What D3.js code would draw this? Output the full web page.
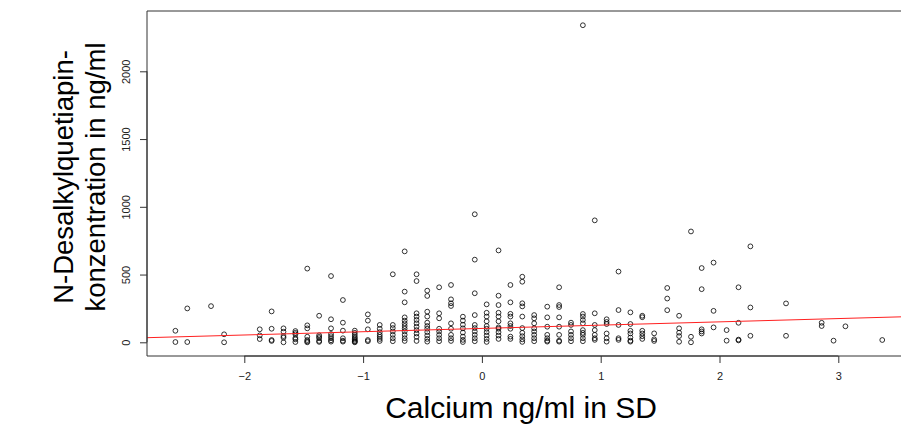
<!DOCTYPE html>
<html><head><meta charset="utf-8">
<script src="https://cdn.jsdelivr.net/npm/d3@7/dist/d3.min.js"></script>
<style>html,body{margin:0;background:#fff;overflow:hidden;} svg{display:block;font-family:Arial,"Liberation Sans",sans-serif;}</style>
</head><body><svg id="c" width="901" height="443"></svg>
<script>
// x positions (Calcium in SD) of the value columns
const columnX = [-2.58,-2.48,-2.28,-2.17,-1.87,-1.77,-1.67,-1.57,-1.47,-1.37,-1.27,-1.17,-1.07,-0.96,-0.86,-0.75,-0.65,-0.55,-0.46,-0.36,-0.26,-0.16,-0.06,0.04,0.14,0.24,0.34,0.44,0.55,0.65,0.75,0.85,0.95,1.05,1.15,1.25,1.35,1.45,1.56,1.66,1.76,1.85,1.95,2.06,2.16,2.26,2.56,2.86,2.96,3.06,3.37];
// N-Desalkylquetiapin concentrations per column
const columnValues = [
 [85,2],[250,2],[267],[59,0],[96,51,24],[228,100,17,10],[103,78,46,34,0],[83,70,59,32,22,2],
 [544,125,103,41,17,7,0],[196,52,40,30,10,3],[489,170,103,61,45,30,15,5],[312,145,86,30,12,5],
 [86,70,55,40,30,20,10,5,0],[206,160,96,17,8],[128,100,75,55,40,25,10],[502,128,105,80,55,30,8],
 [671,374,295,184,160,140,120,100,80,55,30,10],[502,452,214,190,165,140,115,90,65,40,10],
 [381,342,226,190,145,120,100,75,50,25,5],[406,214,177,100,80,55,30,8],[423,317,288,268,140,100,55,30,10],
 [189,160,130,103,72,42,18,2],[945,610,362,201,128,105,80,55,30,8],[280,218,190,155,120,100,75,50,25,3],
 [678,344,275,218,190,155,110,100,75,50,25],[423,295,210,190,140,120,100,42,25],[484,447,288,265,190,105,70,45,22,3],
 [201,177,140,103,80,55,30,8],[263,184,115,55,30,12,5],[406,275,260,184,115,55,12,5],[145,128,80,55,30,8],
 [2340,209,190,165,140,90,70,55,30,8],[900,214,128,90,55,30,18],[170,150,135,65,30,5],[522,238,128,30,18],
 [221,135,85,65,35,12,5],[196,185,85,65,45,25],[66,22,10],[401,323,237],[196,103,71,46,4],[818,41,0],
 [548,392,96,80,65],[588,232,110],[90,12],[406,144,20,14],[708,257,48],[287,48],[144,120],[12],[118],[17]
];
const xTicks = [-2,-1,0,1,2,3];
const yTicks = [0,500,1000,1500,2000];
const fitIntercept = 102.4, fitSlope = 24.25;

const points = [];
columnX.forEach((x,i)=>columnValues[i].forEach(v=>points.push({x, v})));

const svg = d3.select("#c");
const L = 147, R = 1100, T = 11, B = 356;
const x = d3.scaleLinear().domain([-2,3]).range([244.3,838.3]);
const y = d3.scaleLinear().domain([0,2000]).range([342.3,71.3]);

svg.append("clipPath").attr("id","pc").append("rect")
  .attr("x",L).attr("y",T).attr("width",R-L).attr("height",B-T);

// points
svg.append("g").selectAll("circle").data(points).join("circle")
  .attr("cx",d=>x(d.x)).attr("cy",d=>y(d.v)).attr("r",2.4)
  .attr("fill","none").attr("stroke","#000").attr("stroke-width",0.8);

// regression line
const x0 = x.invert(L), x1 = x.invert(901);
svg.append("line").attr("clip-path","url(#pc)")
  .attr("x1",x(x0)).attr("y1",y(fitIntercept+fitSlope*x0))
  .attr("x2",x(x1)).attr("y2",y(fitIntercept+fitSlope*x1))
  .attr("stroke","#ff2020").attr("stroke-width",1);

// box (left, top, bottom; right edge lies outside the picture)
svg.append("path").attr("d",`M${R},${T}H${L}V${B}H${R}`)
  .attr("fill","none").attr("stroke","#333").attr("stroke-width",1);

// x axis
const xa = svg.append("g").attr("transform",`translate(0,${B})`)
  .call(d3.axisBottom(x).tickValues(xTicks).tickSize(7).tickPadding(9).tickFormat(d3.format("d")));
xa.select(".domain").attr("d",`M${x(-2)},0H${x(3)}`).attr("stroke","#333");
xa.selectAll(".tick line").attr("stroke","#333");
xa.selectAll("text").attr("font-size",11).attr("fill","#222").attr("font-family","Arial,'Liberation Sans',sans-serif");

// y axis
const ya = svg.append("g").attr("transform",`translate(${L},0)`)
  .call(d3.axisLeft(y).tickValues(yTicks).tickSize(7).tickFormat(d3.format("d")));
ya.select(".domain").attr("d",`M0,${y(0)}V${y(2000)}`).attr("stroke","#333");
ya.selectAll(".tick line").attr("stroke","#333");
ya.selectAll("text").attr("font-size",11).attr("fill","#222")
  .attr("font-family","Arial,'Liberation Sans',sans-serif")
  .attr("x",null).attr("dy",null)
  .attr("text-anchor","middle")
  .attr("transform","translate(-17,0) rotate(-90)");

// axis titles
svg.append("text").attr("x",521).attr("y",418).attr("text-anchor","middle")
  .attr("font-size",30).attr("fill","#000").text("Calcium ng/ml in SD");
const yl = svg.append("text").attr("transform","translate(0,177) rotate(-90)")
  .attr("text-anchor","middle").attr("font-size",27.5).attr("fill","#000");
yl.append("tspan").attr("x",0).attr("y",73).text("N-Desalkylquetiapin-");
yl.append("tspan").attr("x",0).attr("y",105).text("konzentration in ng/ml");
</script></body></html>
